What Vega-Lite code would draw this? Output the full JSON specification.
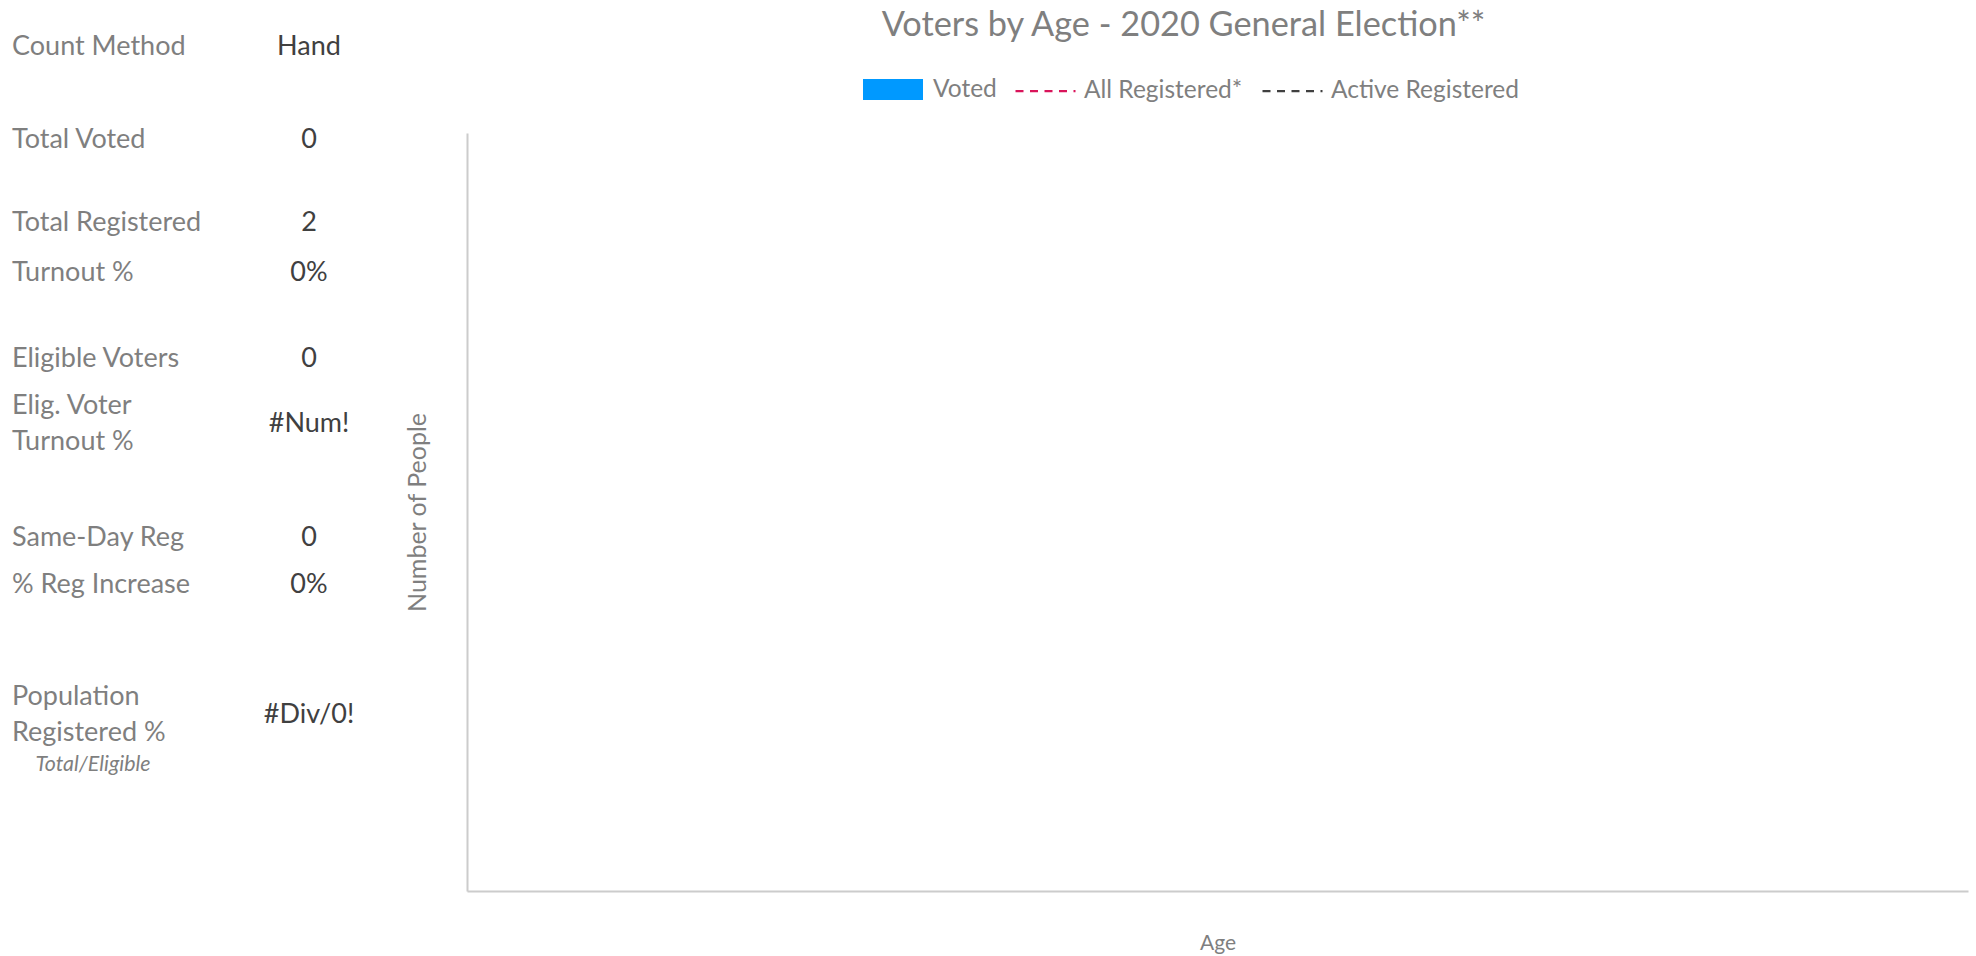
{
  "$schema": "https://vega.github.io/schema/vega-lite/v6.json",
  "background": "white",
  "padding": {"left": 12, "top": 8, "right": 8, "bottom": 0},
  "bounds": "flush",
  "spacing": 158,
  "config": {"view": {"stroke": null}, "font": "Lato"},
  "hconcat": [
    {
      "width": 297,
      "height": 758,
      "data": {"values": [
        {"item": "Count Method", "value": "Hand", "line": 0},
        {"item": "Total Voted", "value": "0", "line": 15.6},
        {"item": "Total Registered", "value": "2", "line": 29.4},
        {"item": "Turnout %", "value": "0%", "line": 37.8},
        {"item": "Eligible Voters", "value": "0", "line": 52.2},
        {"item": "Elig. Voter\nTurnout %", "value": "#Num!", "line": 63},
        {"item": "Same-Day Reg", "value": "0", "line": 82},
        {"item": "% Reg Increase", "value": "0%", "line": 90},
        {"item": "Population\nRegistered %", "value": "#Div/0!", "line": 111.7},
        {"note": "Total/Eligible", "line": 120}
      ]},
      "layer": [
        {
          "transform": [{"filter": "isValid(datum.item) && indexof(datum.item, '\\n') < 0"}],
          "mark": {"type": "text", "align": "left", "baseline": "middle", "fontSize": 27, "color": "#7f7f7f"},
          "encoding": {
            "x": {"datum": "label", "type": "nominal", "scale": {"type": "point", "domain": ["label", "value"], "padding": 0}, "axis": null},
            "y": {"field": "line", "type": "quantitative", "scale": {"domain": [14.38, 141.07], "reverse": true, "zero": false, "nice": false}, "axis": null},
            "text": {"field": "item"}
          }
        },
        {
          "transform": [{"filter": "isValid(datum.item) && indexof(datum.item, '\\n') >= 0"}],
          "mark": {"type": "text", "align": "left", "baseline": "middle", "fontSize": 27, "color": "#7f7f7f", "lineBreak": "\n", "lineHeight": 36, "dy": -18},
          "encoding": {
            "x": {"datum": "label", "type": "nominal"},
            "y": {"field": "line", "type": "quantitative"},
            "text": {"field": "item"}
          }
        },
        {
          "transform": [{"filter": "isValid(datum.value)"}],
          "mark": {"type": "text", "align": "center", "baseline": "middle", "fontSize": 27, "color": "#404040"},
          "encoding": {
            "x": {"datum": "value", "type": "nominal"},
            "y": {"field": "line", "type": "quantitative"},
            "text": {"field": "value"}
          }
        },
        {
          "transform": [{"filter": "isValid(datum.note)"}],
          "mark": {"type": "text", "align": "center", "baseline": "middle", "fontSize": 21.4, "fontStyle": "italic", "color": "#7f7f7f", "dx": 81},
          "encoding": {
            "x": {"datum": "label", "type": "nominal"},
            "y": {"field": "line", "type": "quantitative"},
            "text": {"field": "note"}
          }
        }
      ]
    },
    {
      "width": 1501,
      "height": 758,
      "title": {"text": "Voters by Age - 2020 General Election**", "fontSize": 34.3, "fontWeight": "normal", "color": "#7f7f7f", "font": "Lato", "offset": 90, "anchor": "middle", "dx": -34},
      "data": {"values": [
        {"series": "Voted"},
        {"series": "All Registered*"},
        {"series": "Active Registered"}
      ]},
      "encoding": {
        "x": {"field": "age", "type": "nominal", "axis": {"title": "Age", "labels": false, "ticks": false, "domainColor": "#cccccc", "domainWidth": 2, "titleFontSize": 21, "titleFontWeight": "normal", "titleColor": "#7f7f7f", "titlePadding": 41.5}},
        "y": {"field": "people", "type": "quantitative", "scale": {"domain": [0, 1]}, "axis": {"title": "Number of People", "labels": false, "ticks": false, "grid": false, "domainColor": "#cccccc", "domainWidth": 2, "titleFontSize": 25, "titleFontWeight": "normal", "titleColor": "#7f7f7f", "titlePadding": 37}}
      },
      "layer": [
        {
          "transform": [{"filter": "datum.series === 'Voted'"}],
          "mark": {"type": "bar"},
          "encoding": {
            "fill": {"field": "series", "type": "nominal", "scale": {"domain": ["Voted"], "range": ["#0099ff"]},
              "legend": {"orient": "none", "legendX": 851, "legendY": -73.5, "title": null, "symbolType": "M-1,-0.35H1V0.35H-1Z", "symbolSize": 3600, "symbolStrokeWidth": 0, "labelFontSize": 24.5, "labelColor": "#7f7f7f", "labelOffset": 10, "labelLimit": 500, "padding": 0}}
          }
        },
        {
          "transform": [{"filter": "datum.series !== 'Voted'"}],
          "mark": {"type": "line", "strokeDash": [8, 6.5], "strokeWidth": 2.25},
          "encoding": {
            "stroke": {"field": "series", "type": "nominal", "scale": {"domain": ["All Registered*", "Active Registered"], "range": ["#d9145a", "#404040"]},
              "legend": {"orient": "none", "legendX": 1002, "legendY": -73.5, "direction": "horizontal", "title": null, "symbolType": "stroke", "symbolSize": 3600, "symbolDash": [8, 6.5], "symbolStrokeWidth": 2.25, "labelFontSize": 24.5, "labelColor": "#7f7f7f", "labelOffset": 7, "labelLimit": 500, "columnPadding": 15, "padding": 0}}
          }
        }
      ]
    }
  ]
}
